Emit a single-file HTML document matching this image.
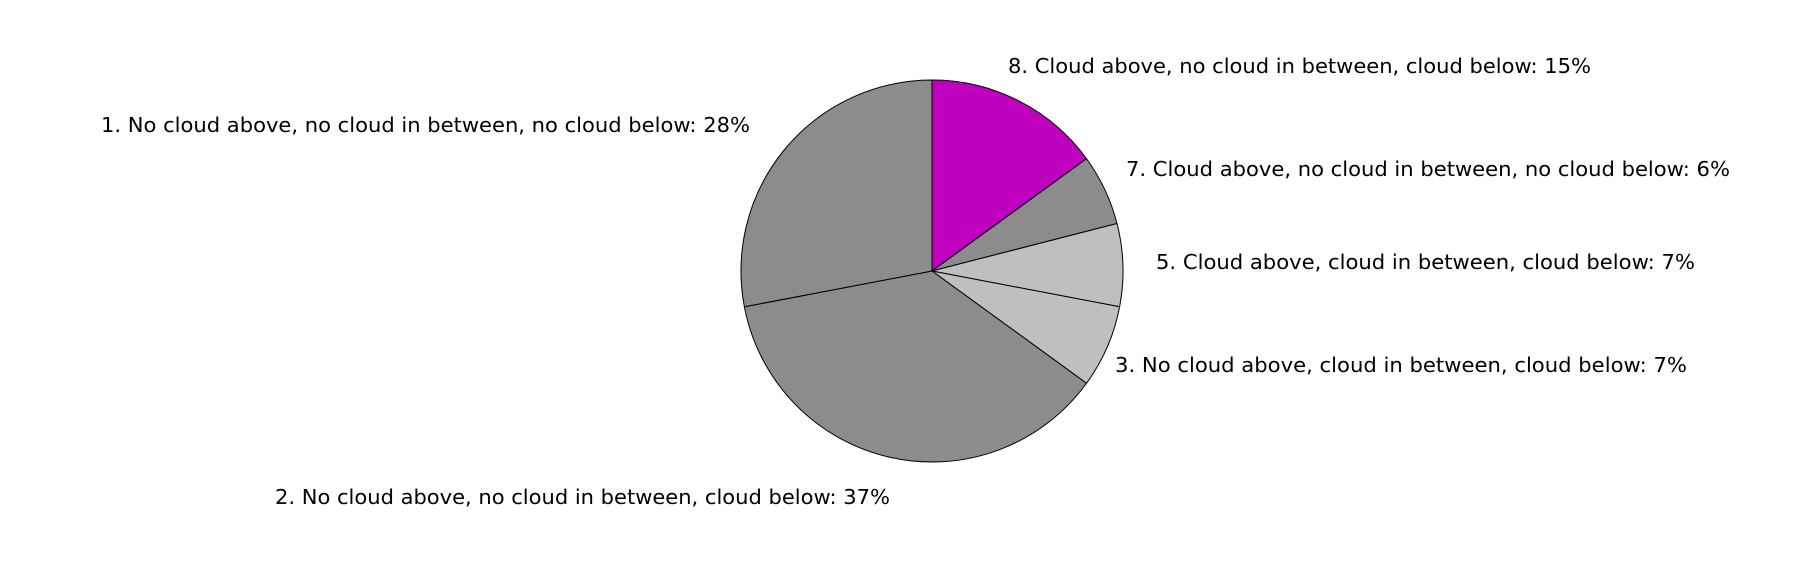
<!DOCTYPE html>
<html><head><meta charset="utf-8"><style>
body{margin:0;background:#fff;width:1800px;height:563px;overflow:hidden}
text{font-family:"DejaVu Sans","Liberation Sans",sans-serif;font-size:20px;fill:#000}
</style></head><body>
<svg id="chart" width="1800" height="563" xmlns="http://www.w3.org/2000/svg"></svg>
<script>
const labels = ["8. Cloud above, no cloud in between, cloud below: 15%","7. Cloud above, no cloud in between, no cloud below: 6%","5. Cloud above, cloud in between, cloud below: 7%","3. No cloud above, cloud in between, cloud below: 7%","2. No cloud above, no cloud in between, cloud below: 37%","1. No cloud above, no cloud in between, no cloud below: 28%"];
const values = [15, 6, 7, 7, 37, 28];
const colors = ["#bf00bf","#8c8c8c","#bfbfbf","#bfbfbf","#8c8c8c","#8c8c8c"];
const slugs = ["slice-8","slice-7","slice-5","slice-3","slice-2","slice-1"];
const labelPos = [[1008,66,1591],[1126,169,1730],[1156,262,1695],[1115,365,1687],[275,497,890],[101,125,750]];
const svg = document.getElementById('chart');
const NS = 'http://www.w3.org/2000/svg';
const cx = 932, cy = 271, r = 191;
const total = values.reduce((a,b)=>a+b,0);
function pt(frac){const a = Math.PI/2 - frac*2*Math.PI; return [cx + r*Math.cos(a), cy - r*Math.sin(a)];}
let acc = 0;
values.forEach((v,i)=>{
  const f0 = acc/total, f1 = (acc+v)/total; acc += v;
  const p0 = pt(f0), p1 = pt(f1);
  const large = (f1-f0) > 0.5 ? 1 : 0;
  const path = document.createElementNS(NS,'path');
  path.setAttribute('d', `M${cx},${cy} L${p0[0]},${p0[1]} A${r},${r} 0 ${large} 1 ${p1[0]},${p1[1]} Z`);
  path.setAttribute('fill', colors[i]);
  path.setAttribute('stroke', '#000');
  path.setAttribute('stroke-width', '1');
  
  
  svg.appendChild(path);
});
labels.forEach((t,i)=>{
  const lp = labelPos[i];
  const el = document.createElementNS(NS,'text');
  el.setAttribute('x', lp[0]);
  el.setAttribute('y', lp[1]);
  el.setAttribute('dominant-baseline', 'central');
  el.setAttribute('textLength', lp[2]-lp[0]);
  el.setAttribute('lengthAdjust', 'spacingAndGlyphs');
  el.textContent = t;
  
  
  svg.appendChild(el);
});
</script>
</body></html>
